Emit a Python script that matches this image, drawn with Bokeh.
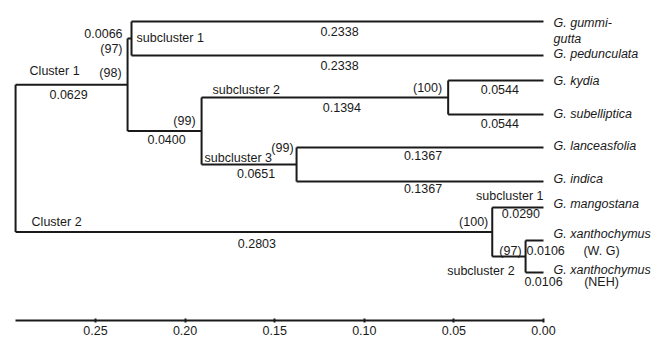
from bokeh.plotting import figure
from bokeh.models import Range1d, FixedTicker, ColumnDataSource
from bokeh.core.properties import value
from bokeh.embed import file_html
from bokeh.resources import INLINE

# ---------------- data ----------------
leaf_names = ["G. gummi-gutta", "G. pedunculata", "G. kydia", "G. subelliptica",
              "G. lanceasfolia", "G. indica", "G. mangostana",
              "G. xanthochymus (W. G)", "G. xanthochymus (NEH)"]
leaf_labels = ["G. gummi-\ngutta", "G. pedunculata", "G. kydia", "G. subelliptica",
               "G. lanceasfolia", "G. indica", "G. mangostana",
               "G. xanthochymus", "G. xanthochymus"]
leaf_notes = ["", "", "", "", "", "", "", "(W. G)", "(NEH)"]

node_names = ["sc1", "kyd", "lan", "sc23", "c1", "xan", "c2", "root"]
node_left = ["G. gummi-gutta", "G. kydia", "G. lanceasfolia", "kyd", "sc1",
             "G. xanthochymus (W. G)", "G. mangostana", "c1"]
node_right = ["G. pedunculata", "G. subelliptica", "G. indica", "lan", "sc23",
              "G. xanthochymus (NEH)", "xan", "c2"]
node_height = [0.2299, 0.0532, 0.1378, 0.1908, 0.2321, 0.0100, 0.0286, 0.2946]

# annotation texts and the branch (child node) they belong to
ann_text = ["0.2338", "0.2338", "0.0544", "0.0544", "0.1367", "0.1367", "0.1394",
            "0.0651", "0.0400", "0.0066", "0.0629", "0.2803", "0.0290", "0.0106", "0.0106",
            "(97)", "(98)", "(99)", "(99)", "(100)", "(100)", "(97)",
            "Cluster 1", "Cluster 2", "subcluster 1", "subcluster 2", "subcluster 3",
            "subcluster 1", "subcluster 2"]
ann_branch = ["G. gummi-gutta", "G. pedunculata", "G. kydia", "G. subelliptica",
              "G. lanceasfolia", "G. indica", "kyd", "lan", "sc23", "sc1", "c1", "c2",
              "G. mangostana", "G. xanthochymus (W. G)", "G. xanthochymus (NEH)",
              "sc1", "c1", "sc23", "lan", "kyd", "c2", "xan",
              "c1", "c2", "sc1", "kyd", "lan", "G. mangostana", "xan"]

tick_values = [0.25, 0.20, 0.15, 0.10, 0.05, 0.00]
tick_labels = ["0.25", "0.20", "0.15", "0.10", "0.05", "0.00"]

# ---------------- layout (positions / styles) ----------------
row_y = [21, 55, 80, 114, 147, 181, 207, 240, 272]          # vertical row of each leaf
leaf_dy = [-6, -9, -7, -8, -9, -10, -11, -14, -10]          # px, label top offsets
# where along the branch (0 = parent end, 1 = child end), px offsets, alignment
ann_frac = [0.5, 0.5, 0.5, 0.5, 0.5, 0.5, 0.5, 0.5, 0.5, 0, 0.5, 0.5, 0.5, 0, 1,
            1, 1, 1, 1, 1, 1, 1,
            0, 0, 1, 0, 0, 1, 1]
ann_dx = [2, 2, 4, 4, 3, 3, 17, 7, 2, -5, -3, 3, 3, 1, 0,
          -9, -6, -6, -3, -6, -4, -4,
          14, 16, 5, 11, 3, 0, -11]
ann_dy = [10, 10, 9, 9, 8, 7, 10, 9, 8, -5, 10, 11, 6, 10, 9,
          10, -12, -10, -17, -10, -10, -6,
          -14, -10, -1, -8, -7, -12, 14]
ann_align = ["center"] * 9 + ["right", "center", "center", "center", "left", "center"] + \
            ["right"] * 7 + ["left", "left", "left", "left", "left", "right", "right"]

INK = "#1a1a1a"
FONT = value("Liberation Sans")
FS = value("12.5px")

# ---------------- tree geometry ----------------
hx = {n: 0.0 for n in leaf_names}
hy = {n: y for n, y in zip(leaf_names, row_y)}
parent = {}
for n, l, r, h in zip(node_names, node_left, node_right, node_height):
    hx[n] = h
    hy[n] = (hy[l] + hy[r]) / 2.0
    parent[l] = n
    parent[r] = n

x0, y0, x1, y1 = [], [], [], []
for n, l, r in zip(node_names, node_left, node_right):
    # vertical connector
    x0.append(hx[n]); x1.append(hx[n]); y0.append(hy[l]); y1.append(hy[r])
    # horizontal branches to children
    for c in (l, r):
        x0.append(hx[n]); x1.append(hx[c]); y0.append(hy[c]); y1.append(hy[c])

p = figure(width=653, height=339, output_backend="svg", toolbar_location=None,
           x_range=Range1d(0.30301, -0.06138), y_range=Range1d(320, 0),
           y_axis_location=None, min_border_left=0, min_border_right=0,
           min_border_top=0, min_border_bottom=19)
p.outline_line_color = None
p.grid.visible = False
p.background_fill_color = "white"
p.border_fill_color = "white"

p.segment(x0=x0, y0=y0, x1=x1, y1=y1, line_color=INK, line_width=2)

# leaf labels
p.text(x=[0.0] * len(leaf_names), y=row_y, text=leaf_labels, x_offset=10, y_offset=leaf_dy,
       text_font=FONT, text_font_size=FS, text_font_style="italic", text_color=INK,
       text_align="left", text_baseline="top", text_line_height=1.15)
note_idx = [i for i, t in enumerate(leaf_notes) if t]
p.text(x=[0.0 for i in note_idx], y=[row_y[i] for i in note_idx],
       text=[leaf_notes[i] for i in note_idx], x_offset=58, y_offset=[10, 9],
       text_font=FONT, text_font_size=FS, text_color=INK,
       text_align="center", text_baseline="middle")

# branch / bootstrap / cluster annotations
for align in ("left", "center", "right"):
    idx = [i for i, a in enumerate(ann_align) if a == align]
    xs, ys = [], []
    for i in idx:
        c = ann_branch[i]
        pa = parent[c]
        f = ann_frac[i]
        xs.append(hx[pa] + f * (hx[c] - hx[pa]))
        ys.append(hy[c])
    src = ColumnDataSource(dict(x=xs, y=ys, text=[ann_text[i] for i in idx],
                                dx=[ann_dx[i] for i in idx], dy=[ann_dy[i] for i in idx]))
    p.text(x="x", y="y", text="text", x_offset="dx", y_offset="dy", source=src,
           text_font=FONT, text_font_size=FS, text_color=INK,
           text_align=align, text_baseline="middle")

ax = p.xaxis[0]
ax.ticker = FixedTicker(ticks=tick_values)
ax.major_label_overrides = {v: s for v, s in zip(tick_values, tick_labels)}
ax.bounds = (0.0, node_height[node_names.index("root")])
ax.axis_line_color = INK
ax.axis_line_width = 2
ax.major_tick_line_color = INK
ax.major_tick_line_width = 2
ax.major_tick_in = 2
ax.major_tick_out = 2
ax.minor_tick_line_color = None
ax.major_label_standoff = 3
ax.major_label_text_font = "Liberation Sans"
ax.major_label_text_font_size = "12.5px"
ax.major_label_text_color = INK

open("out.html", "w").write(file_html(p, INLINE))
